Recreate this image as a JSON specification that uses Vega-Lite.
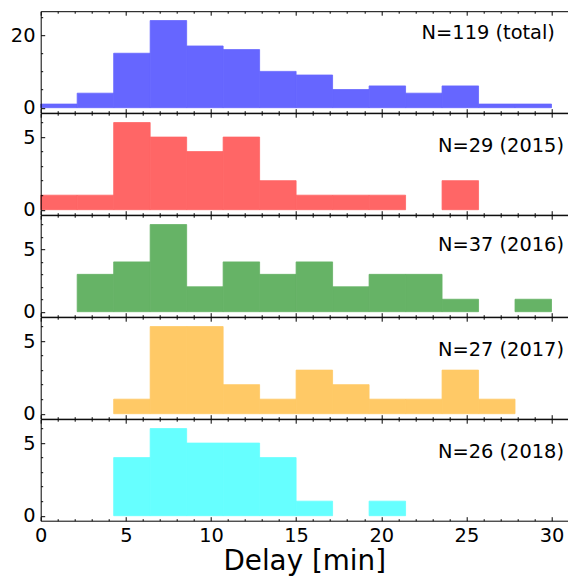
{
  "$schema": "https://vega.github.io/schema/vega-lite/v6.json",
  "padding": {"top": 10.2, "left": 0.7, "right": 0, "bottom": 0},
  "spacing": 0,
  "bounds": "flush",
  "config": {
    "view": {"stroke": null},
    "font": "DejaVu Sans",
    "axis": {
      "grid": false,
      "domainColor": "black",
      "domainWidth": 1,
      "tickColor": "black",
      "tickWidth": 1,
      "labelColor": "black",
      "labelFont": "DejaVu Sans",
      "labelFontSize": 19.4,
      "labelFlush": false,
      "labelOverlap": false,
      "titleFont": "DejaVu Sans",
      "titleColor": "black",
      "titleFontWeight": "normal"
    }
  },
  "datasets": {
    "total": [
      {"x0": 0, "x1": 2.1429, "count": 1},
      {"x0": 2.1429, "x1": 4.2857, "count": 4},
      {"x0": 4.2857, "x1": 6.4286, "count": 15},
      {"x0": 6.4286, "x1": 8.5714, "count": 24},
      {"x0": 8.5714, "x1": 10.7143, "count": 17},
      {"x0": 10.7143, "x1": 12.8571, "count": 16},
      {"x0": 12.8571, "x1": 15, "count": 10},
      {"x0": 15, "x1": 17.1429, "count": 9},
      {"x0": 17.1429, "x1": 19.2857, "count": 5},
      {"x0": 19.2857, "x1": 21.4286, "count": 6},
      {"x0": 21.4286, "x1": 23.5714, "count": 4},
      {"x0": 23.5714, "x1": 25.7143, "count": 6},
      {"x0": 25.7143, "x1": 27.8571, "count": 1},
      {"x0": 27.8571, "x1": 30, "count": 1}
    ],
    "y2015": [
      {"x0": 0, "x1": 2.1429, "count": 1},
      {"x0": 2.1429, "x1": 4.2857, "count": 1},
      {"x0": 4.2857, "x1": 6.4286, "count": 6},
      {"x0": 6.4286, "x1": 8.5714, "count": 5},
      {"x0": 8.5714, "x1": 10.7143, "count": 4},
      {"x0": 10.7143, "x1": 12.8571, "count": 5},
      {"x0": 12.8571, "x1": 15, "count": 2},
      {"x0": 15, "x1": 17.1429, "count": 1},
      {"x0": 17.1429, "x1": 19.2857, "count": 1},
      {"x0": 19.2857, "x1": 21.4286, "count": 1},
      {"x0": 23.5714, "x1": 25.7143, "count": 2}
    ],
    "y2016": [
      {"x0": 2.1429, "x1": 4.2857, "count": 3},
      {"x0": 4.2857, "x1": 6.4286, "count": 4},
      {"x0": 6.4286, "x1": 8.5714, "count": 7},
      {"x0": 8.5714, "x1": 10.7143, "count": 2},
      {"x0": 10.7143, "x1": 12.8571, "count": 4},
      {"x0": 12.8571, "x1": 15, "count": 3},
      {"x0": 15, "x1": 17.1429, "count": 4},
      {"x0": 17.1429, "x1": 19.2857, "count": 2},
      {"x0": 19.2857, "x1": 21.4286, "count": 3},
      {"x0": 21.4286, "x1": 23.5714, "count": 3},
      {"x0": 23.5714, "x1": 25.7143, "count": 1},
      {"x0": 27.8571, "x1": 30, "count": 1}
    ],
    "y2017": [
      {"x0": 4.2857, "x1": 6.4286, "count": 1},
      {"x0": 6.4286, "x1": 8.5714, "count": 6},
      {"x0": 8.5714, "x1": 10.7143, "count": 6},
      {"x0": 10.7143, "x1": 12.8571, "count": 2},
      {"x0": 12.8571, "x1": 15, "count": 1},
      {"x0": 15, "x1": 17.1429, "count": 3},
      {"x0": 17.1429, "x1": 19.2857, "count": 2},
      {"x0": 19.2857, "x1": 21.4286, "count": 1},
      {"x0": 21.4286, "x1": 23.5714, "count": 1},
      {"x0": 23.5714, "x1": 25.7143, "count": 3},
      {"x0": 25.7143, "x1": 27.8571, "count": 1}
    ],
    "y2018": [
      {"x0": 4.2857, "x1": 6.4286, "count": 4},
      {"x0": 6.4286, "x1": 8.5714, "count": 6},
      {"x0": 8.5714, "x1": 10.7143, "count": 5},
      {"x0": 10.7143, "x1": 12.8571, "count": 5},
      {"x0": 12.8571, "x1": 15, "count": 4},
      {"x0": 15, "x1": 17.1429, "count": 1},
      {"x0": 19.2857, "x1": 21.4286, "count": 1}
    ]
  },
  "vconcat": [
    {
      "width": 527, "height": 101.5,
      "data": {"name": "total"},
      "resolve": {"axis": {"x": "independent", "y": "independent"}},
      "layer": [
        {"mark": {"type": "bar", "color": "#6666ff", "stroke": "#6666ff", "strokeWidth": 0.8, "opacity": 1},
         "encoding": {
           "x": {"field": "x0", "type": "quantitative", "scale": {"domain": [0, 30.95], "nice": false, "zero": false},
                 "axis": {"orient": "bottom", "zindex": 1, "ticks": false, "tickSize": 0, "labels": false, "title": null}},
           "x2": {"field": "x1"},
           "y": {"field": "count", "type": "quantitative", "scale": {"domain": [0, 25.2], "nice": false},
                 "axis": {"orient": "left", "zindex": 1, "values": [0, 20], "ticks": false, "tickSize": 0, "labelPadding": 5.7, "title": null, "minExtent": 40, "maxExtent": 40}},
           "y2": {"datum": 0}
         }},
        {"mark": {"type": "bar", "opacity": 0},
         "encoding": {
           "x": {"field": "x0", "type": "quantitative",
                 "axis": {"orient": "bottom", "zindex": 1, "values": [0,5,10,15,20,25,30], "tickSize": 4, "offset": -4, "domain": false, "labels": false, "title": null}},
           "x2": {"field": "x1"},
           "y": {"field": "count", "type": "quantitative",
                 "axis": {"orient": "left", "zindex": 1, "values": [0, 20], "tickSize": 4, "offset": -4, "domain": false, "labels": false, "title": null}}
         }},
        {"mark": {"type": "bar", "opacity": 0},
         "encoding": {
           "x": {"field": "x0", "type": "quantitative",
                 "axis": {"orient": "bottom", "zindex": 1, "values": [1,2,3,4,6,7,8,9,11,12,13,14,16,17,18,19,21,22,23,24,26,27,28,29], "tickSize": 2, "offset": -2, "domain": false, "labels": false, "title": null}},
           "x2": {"field": "x1"},
           "y": {"field": "count", "type": "quantitative",
                 "axis": {"orient": "left", "zindex": 1, "values": [5, 10, 15, 25], "tickSize": 2, "offset": -2, "domain": false, "labels": false, "title": null}}
         }},
        {"mark": {"type": "bar", "opacity": 0},
         "encoding": {
           "x": {"field": "x0", "type": "quantitative",
                 "axis": {"orient": "top", "zindex": 1, "ticks": false, "tickSize": 0, "labels": false, "title": null}},
           "x2": {"field": "x1"},
           "y": {"field": "count", "type": "quantitative", "axis": null}
         }},
        {"mark": {"type": "bar", "opacity": 0},
         "encoding": {
           "x": {"field": "x0", "type": "quantitative",
                 "axis": {"orient": "top", "zindex": 1, "values": [0,5,10,15,20,25,30], "tickSize": 4, "offset": -4, "domain": false, "labels": false, "title": null}},
           "x2": {"field": "x1"},
           "y": {"field": "count", "type": "quantitative", "axis": null}
         }},
        {"mark": {"type": "bar", "opacity": 0},
         "encoding": {
           "x": {"field": "x0", "type": "quantitative",
                 "axis": {"orient": "top", "zindex": 1, "values": [1,2,3,4,6,7,8,9,11,12,13,14,16,17,18,19,21,22,23,24,26,27,28,29], "tickSize": 2, "offset": -2, "domain": false, "labels": false, "title": null}},
           "x2": {"field": "x1"},
           "y": {"field": "count", "type": "quantitative", "axis": null}
         }},
        {"data": {"values": [{"label": "N=119 (total)"}]},
         "mark": {"type": "text", "align": "right", "baseline": "alphabetic", "fontSize": 19.4, "font": "DejaVu Sans", "color": "black"},
         "encoding": {
           "x": {"datum": 30.2, "type": "quantitative", "axis": null},
           "y": {"datum": 19.0, "type": "quantitative", "axis": null},
           "text": {"field": "label"}
         }}
      ]
    },
    {
      "width": 527, "height": 101.5,
      "data": {"name": "y2015"},
      "resolve": {"axis": {"x": "independent", "y": "independent"}},
      "layer": [
        {"mark": {"type": "bar", "color": "#ff6666", "stroke": "#ff6666", "strokeWidth": 0.8, "opacity": 1},
         "encoding": {
           "x": {"field": "x0", "type": "quantitative", "scale": {"domain": [0, 30.95], "nice": false, "zero": false},
                 "axis": {"orient": "bottom", "zindex": 1, "ticks": false, "tickSize": 0, "labels": false, "title": null}},
           "x2": {"field": "x1"},
           "y": {"field": "count", "type": "quantitative", "scale": {"domain": [0, 6.3], "nice": false},
                 "axis": {"orient": "left", "zindex": 1, "values": [0, 5], "ticks": false, "tickSize": 0, "labelPadding": 5.7, "title": null, "minExtent": 40, "maxExtent": 40}},
           "y2": {"datum": 0}
         }},
        {"mark": {"type": "bar", "opacity": 0},
         "encoding": {
           "x": {"field": "x0", "type": "quantitative",
                 "axis": {"orient": "bottom", "zindex": 1, "values": [0,5,10,15,20,25,30], "tickSize": 4, "offset": -4, "domain": false, "labels": false, "title": null}},
           "x2": {"field": "x1"},
           "y": {"field": "count", "type": "quantitative",
                 "axis": {"orient": "left", "zindex": 1, "values": [0, 5], "tickSize": 4, "offset": -4, "domain": false, "labels": false, "title": null}}
         }},
        {"mark": {"type": "bar", "opacity": 0},
         "encoding": {
           "x": {"field": "x0", "type": "quantitative",
                 "axis": {"orient": "bottom", "zindex": 1, "values": [1,2,3,4,6,7,8,9,11,12,13,14,16,17,18,19,21,22,23,24,26,27,28,29], "tickSize": 2, "offset": -2, "domain": false, "labels": false, "title": null}},
           "x2": {"field": "x1"},
           "y": {"field": "count", "type": "quantitative",
                 "axis": {"orient": "left", "zindex": 1, "values": [1, 2, 3, 4, 6], "tickSize": 2, "offset": -2, "domain": false, "labels": false, "title": null}}
         }},
        {"mark": {"type": "bar", "opacity": 0},
         "encoding": {
           "x": {"field": "x0", "type": "quantitative",
                 "axis": {"orient": "top", "zindex": 1, "ticks": false, "tickSize": 0, "labels": false, "title": null}},
           "x2": {"field": "x1"},
           "y": {"field": "count", "type": "quantitative", "axis": null}
         }},
        {"mark": {"type": "bar", "opacity": 0},
         "encoding": {
           "x": {"field": "x0", "type": "quantitative",
                 "axis": {"orient": "top", "zindex": 1, "values": [0,5,10,15,20,25,30], "tickSize": 4, "offset": -4, "domain": false, "labels": false, "title": null}},
           "x2": {"field": "x1"},
           "y": {"field": "count", "type": "quantitative", "axis": null}
         }},
        {"mark": {"type": "bar", "opacity": 0},
         "encoding": {
           "x": {"field": "x0", "type": "quantitative",
                 "axis": {"orient": "top", "zindex": 1, "values": [1,2,3,4,6,7,8,9,11,12,13,14,16,17,18,19,21,22,23,24,26,27,28,29], "tickSize": 2, "offset": -2, "domain": false, "labels": false, "title": null}},
           "x2": {"field": "x1"},
           "y": {"field": "count", "type": "quantitative", "axis": null}
         }},
        {"data": {"values": [{"label": "N=29 (2015)"}]},
         "mark": {"type": "text", "align": "right", "baseline": "alphabetic", "fontSize": 19.4, "font": "DejaVu Sans", "color": "black"},
         "encoding": {
           "x": {"datum": 30.73, "type": "quantitative", "axis": null},
           "y": {"datum": 3.98, "type": "quantitative", "axis": null},
           "text": {"field": "label"}
         }}
      ]
    },
    {
      "width": 527, "height": 101.5,
      "data": {"name": "y2016"},
      "resolve": {"axis": {"x": "independent", "y": "independent"}},
      "layer": [
        {"mark": {"type": "bar", "color": "#66b366", "stroke": "#66b366", "strokeWidth": 0.8, "opacity": 1},
         "encoding": {
           "x": {"field": "x0", "type": "quantitative", "scale": {"domain": [0, 30.95], "nice": false, "zero": false},
                 "axis": {"orient": "bottom", "zindex": 1, "ticks": false, "tickSize": 0, "labels": false, "title": null}},
           "x2": {"field": "x1"},
           "y": {"field": "count", "type": "quantitative", "scale": {"domain": [0, 7.35], "nice": false},
                 "axis": {"orient": "left", "zindex": 1, "values": [0, 5], "ticks": false, "tickSize": 0, "labelPadding": 5.7, "title": null, "minExtent": 40, "maxExtent": 40}},
           "y2": {"datum": 0}
         }},
        {"mark": {"type": "bar", "opacity": 0},
         "encoding": {
           "x": {"field": "x0", "type": "quantitative",
                 "axis": {"orient": "bottom", "zindex": 1, "values": [0,5,10,15,20,25,30], "tickSize": 4, "offset": -4, "domain": false, "labels": false, "title": null}},
           "x2": {"field": "x1"},
           "y": {"field": "count", "type": "quantitative",
                 "axis": {"orient": "left", "zindex": 1, "values": [0, 5], "tickSize": 4, "offset": -4, "domain": false, "labels": false, "title": null}}
         }},
        {"mark": {"type": "bar", "opacity": 0},
         "encoding": {
           "x": {"field": "x0", "type": "quantitative",
                 "axis": {"orient": "bottom", "zindex": 1, "values": [1,2,3,4,6,7,8,9,11,12,13,14,16,17,18,19,21,22,23,24,26,27,28,29], "tickSize": 2, "offset": -2, "domain": false, "labels": false, "title": null}},
           "x2": {"field": "x1"},
           "y": {"field": "count", "type": "quantitative",
                 "axis": {"orient": "left", "zindex": 1, "values": [1, 2, 3, 4, 6, 7], "tickSize": 2, "offset": -2, "domain": false, "labels": false, "title": null}}
         }},
        {"mark": {"type": "bar", "opacity": 0},
         "encoding": {
           "x": {"field": "x0", "type": "quantitative",
                 "axis": {"orient": "top", "zindex": 1, "ticks": false, "tickSize": 0, "labels": false, "title": null}},
           "x2": {"field": "x1"},
           "y": {"field": "count", "type": "quantitative", "axis": null}
         }},
        {"mark": {"type": "bar", "opacity": 0},
         "encoding": {
           "x": {"field": "x0", "type": "quantitative",
                 "axis": {"orient": "top", "zindex": 1, "values": [0,5,10,15,20,25,30], "tickSize": 4, "offset": -4, "domain": false, "labels": false, "title": null}},
           "x2": {"field": "x1"},
           "y": {"field": "count", "type": "quantitative", "axis": null}
         }},
        {"mark": {"type": "bar", "opacity": 0},
         "encoding": {
           "x": {"field": "x0", "type": "quantitative",
                 "axis": {"orient": "top", "zindex": 1, "values": [1,2,3,4,6,7,8,9,11,12,13,14,16,17,18,19,21,22,23,24,26,27,28,29], "tickSize": 2, "offset": -2, "domain": false, "labels": false, "title": null}},
           "x2": {"field": "x1"},
           "y": {"field": "count", "type": "quantitative", "axis": null}
         }},
        {"data": {"values": [{"label": "N=37 (2016)"}]},
         "mark": {"type": "text", "align": "right", "baseline": "alphabetic", "fontSize": 19.4, "font": "DejaVu Sans", "color": "black"},
         "encoding": {
           "x": {"datum": 30.73, "type": "quantitative", "axis": null},
           "y": {"datum": 4.89, "type": "quantitative", "axis": null},
           "text": {"field": "label"}
         }}
      ]
    },
    {
      "width": 527, "height": 101.5,
      "data": {"name": "y2017"},
      "resolve": {"axis": {"x": "independent", "y": "independent"}},
      "layer": [
        {"mark": {"type": "bar", "color": "#ffc966", "stroke": "#ffc966", "strokeWidth": 0.8, "opacity": 1},
         "encoding": {
           "x": {"field": "x0", "type": "quantitative", "scale": {"domain": [0, 30.95], "nice": false, "zero": false},
                 "axis": {"orient": "bottom", "zindex": 1, "ticks": false, "tickSize": 0, "labels": false, "title": null}},
           "x2": {"field": "x1"},
           "y": {"field": "count", "type": "quantitative", "scale": {"domain": [0, 6.3], "nice": false},
                 "axis": {"orient": "left", "zindex": 1, "values": [0, 5], "ticks": false, "tickSize": 0, "labelPadding": 5.7, "title": null, "minExtent": 40, "maxExtent": 40}},
           "y2": {"datum": 0}
         }},
        {"mark": {"type": "bar", "opacity": 0},
         "encoding": {
           "x": {"field": "x0", "type": "quantitative",
                 "axis": {"orient": "bottom", "zindex": 1, "values": [0,5,10,15,20,25,30], "tickSize": 4, "offset": -4, "domain": false, "labels": false, "title": null}},
           "x2": {"field": "x1"},
           "y": {"field": "count", "type": "quantitative",
                 "axis": {"orient": "left", "zindex": 1, "values": [0, 5], "tickSize": 4, "offset": -4, "domain": false, "labels": false, "title": null}}
         }},
        {"mark": {"type": "bar", "opacity": 0},
         "encoding": {
           "x": {"field": "x0", "type": "quantitative",
                 "axis": {"orient": "bottom", "zindex": 1, "values": [1,2,3,4,6,7,8,9,11,12,13,14,16,17,18,19,21,22,23,24,26,27,28,29], "tickSize": 2, "offset": -2, "domain": false, "labels": false, "title": null}},
           "x2": {"field": "x1"},
           "y": {"field": "count", "type": "quantitative",
                 "axis": {"orient": "left", "zindex": 1, "values": [1, 2, 3, 4, 6], "tickSize": 2, "offset": -2, "domain": false, "labels": false, "title": null}}
         }},
        {"mark": {"type": "bar", "opacity": 0},
         "encoding": {
           "x": {"field": "x0", "type": "quantitative",
                 "axis": {"orient": "top", "zindex": 1, "ticks": false, "tickSize": 0, "labels": false, "title": null}},
           "x2": {"field": "x1"},
           "y": {"field": "count", "type": "quantitative", "axis": null}
         }},
        {"mark": {"type": "bar", "opacity": 0},
         "encoding": {
           "x": {"field": "x0", "type": "quantitative",
                 "axis": {"orient": "top", "zindex": 1, "values": [0,5,10,15,20,25,30], "tickSize": 4, "offset": -4, "domain": false, "labels": false, "title": null}},
           "x2": {"field": "x1"},
           "y": {"field": "count", "type": "quantitative", "axis": null}
         }},
        {"mark": {"type": "bar", "opacity": 0},
         "encoding": {
           "x": {"field": "x0", "type": "quantitative",
                 "axis": {"orient": "top", "zindex": 1, "values": [1,2,3,4,6,7,8,9,11,12,13,14,16,17,18,19,21,22,23,24,26,27,28,29], "tickSize": 2, "offset": -2, "domain": false, "labels": false, "title": null}},
           "x2": {"field": "x1"},
           "y": {"field": "count", "type": "quantitative", "axis": null}
         }},
        {"data": {"values": [{"label": "N=27 (2017)"}]},
         "mark": {"type": "text", "align": "right", "baseline": "alphabetic", "fontSize": 19.4, "font": "DejaVu Sans", "color": "black"},
         "encoding": {
           "x": {"datum": 30.73, "type": "quantitative", "axis": null},
           "y": {"datum": 3.96, "type": "quantitative", "axis": null},
           "text": {"field": "label"}
         }}
      ]
    },
    {
      "width": 527, "height": 101.5,
      "data": {"name": "y2018"},
      "resolve": {"axis": {"x": "independent", "y": "independent"}},
      "layer": [
        {"mark": {"type": "bar", "color": "#66ffff", "stroke": "#66ffff", "strokeWidth": 0.8, "opacity": 1},
         "encoding": {
           "x": {"field": "x0", "type": "quantitative", "scale": {"domain": [0, 30.95], "nice": false, "zero": false},
                 "axis": {"orient": "bottom", "zindex": 1, "values": [0,5,10,15,20,25,30], "ticks": false, "tickSize": 0, "labels": true, "labelPadding": 5.5, "title": "Delay [min]", "titleFontSize": 27.8, "titlePadding": 3}},
           "x2": {"field": "x1"},
           "y": {"field": "count", "type": "quantitative", "scale": {"domain": [0, 6.3], "nice": false},
                 "axis": {"orient": "left", "zindex": 1, "values": [0, 5], "ticks": false, "tickSize": 0, "labelPadding": 5.7, "title": null, "minExtent": 40, "maxExtent": 40}},
           "y2": {"datum": 0}
         }},
        {"mark": {"type": "bar", "opacity": 0},
         "encoding": {
           "x": {"field": "x0", "type": "quantitative",
                 "axis": {"orient": "bottom", "zindex": 1, "values": [0,5,10,15,20,25,30], "tickSize": 4, "offset": -4, "domain": false, "labels": false, "title": null}},
           "x2": {"field": "x1"},
           "y": {"field": "count", "type": "quantitative",
                 "axis": {"orient": "left", "zindex": 1, "values": [0, 5], "tickSize": 4, "offset": -4, "domain": false, "labels": false, "title": null}}
         }},
        {"mark": {"type": "bar", "opacity": 0},
         "encoding": {
           "x": {"field": "x0", "type": "quantitative",
                 "axis": {"orient": "bottom", "zindex": 1, "values": [1,2,3,4,6,7,8,9,11,12,13,14,16,17,18,19,21,22,23,24,26,27,28,29], "tickSize": 2, "offset": -2, "domain": false, "labels": false, "title": null}},
           "x2": {"field": "x1"},
           "y": {"field": "count", "type": "quantitative",
                 "axis": {"orient": "left", "zindex": 1, "values": [1, 2, 3, 4, 6], "tickSize": 2, "offset": -2, "domain": false, "labels": false, "title": null}}
         }},
        {"mark": {"type": "bar", "opacity": 0},
         "encoding": {
           "x": {"field": "x0", "type": "quantitative",
                 "axis": {"orient": "top", "zindex": 1, "ticks": false, "tickSize": 0, "labels": false, "title": null}},
           "x2": {"field": "x1"},
           "y": {"field": "count", "type": "quantitative", "axis": null}
         }},
        {"mark": {"type": "bar", "opacity": 0},
         "encoding": {
           "x": {"field": "x0", "type": "quantitative",
                 "axis": {"orient": "top", "zindex": 1, "values": [0,5,10,15,20,25,30], "tickSize": 4, "offset": -4, "domain": false, "labels": false, "title": null}},
           "x2": {"field": "x1"},
           "y": {"field": "count", "type": "quantitative", "axis": null}
         }},
        {"mark": {"type": "bar", "opacity": 0},
         "encoding": {
           "x": {"field": "x0", "type": "quantitative",
                 "axis": {"orient": "top", "zindex": 1, "values": [1,2,3,4,6,7,8,9,11,12,13,14,16,17,18,19,21,22,23,24,26,27,28,29], "tickSize": 2, "offset": -2, "domain": false, "labels": false, "title": null}},
           "x2": {"field": "x1"},
           "y": {"field": "count", "type": "quantitative", "axis": null}
         }},
        {"data": {"values": [{"label": "N=26 (2018)"}]},
         "mark": {"type": "text", "align": "right", "baseline": "alphabetic", "fontSize": 19.4, "font": "DejaVu Sans", "color": "black"},
         "encoding": {
           "x": {"datum": 30.73, "type": "quantitative", "axis": null},
           "y": {"datum": 3.98, "type": "quantitative", "axis": null},
           "text": {"field": "label"}
         }}
      ]
    }
  ]
}
